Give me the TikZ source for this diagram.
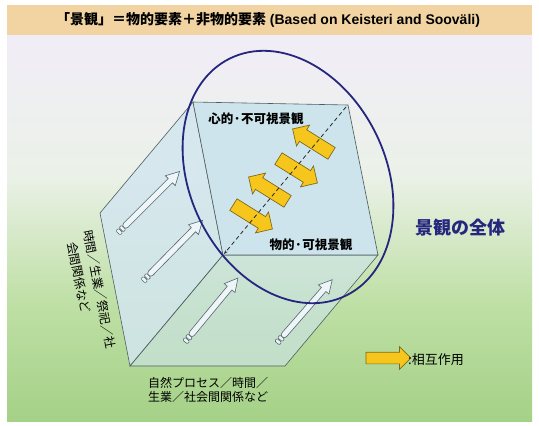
\documentclass[tikz,border=0pt]{standalone}
\usepackage{fontspec}
\setmainfont{Liberation Sans}
\newfontfamily\jp{Noto Sans CJK JP}
\usetikzlibrary{shapes.arrows,arrows.meta}
\definecolor{bandtan}{HTML}{F1D4A2}
\definecolor{lav}{HTML}{F1EDF7}
\definecolor{midbg}{HTML}{EBF1E8}
\definecolor{lgreen}{HTML}{BFE0A6}
\definecolor{dgreen}{HTML}{A5D187}
\definecolor{faceblue}{HTML}{CDE4EC}
\definecolor{sideblue}{HTML}{D3E6EF}
\definecolor{edgegray}{HTML}{4E5E60}
\definecolor{navy}{HTML}{26267E}
\definecolor{yfill}{HTML}{F6C61C}
\definecolor{yedge}{HTML}{7E6A1E}
\definecolor{hfill}{HTML}{EEF5F8}
\definecolor{hedge}{HTML}{56666B}
\tikzset{
  faceedge/.style={draw=edgegray, line width=0.6pt},
  yarrow/.style={single arrow, draw=yedge, fill=yfill, line width=0.7pt,
    minimum height=46pt, minimum width=24pt, single arrow head extend=5.5pt,
    single arrow tip angle=90, inner xsep=0pt, inner ysep=6.5pt, outer sep=0pt},
  harrow/.style={draw=hedge, fill=hfill, line width=0.6pt},
  jplabel/.style={font=\jp\bfseries\fontsize{12.5}{14}\selectfont, inner sep=0pt},
  jpsmall/.style={font=\jp\fontsize{12}{14}\selectfont, inner sep=0pt, anchor=west},
}
\newcommand\hollowarr[4]{%
  \begin{scope}[shift={(#1,#2)},rotate=#3]
    \draw[harrow] (11,-3) -- (#4-13,-3) -- (#4-13,-7) -- (#4,0) -- (#4-13,7) -- (#4-13,3) -- (11,3)
      arc[start angle=90,end angle=270,radius=3] -- cycle;
    \draw[harrow, rounded corners=1pt] (0,-3) rectangle (3.5,3);
    \draw[harrow, rounded corners=1pt] (4.5,-3) rectangle (8,3);
  \end{scope}}
\begin{document}
\begin{tikzpicture}[x=1pt,y=-1pt]
\useasboundingbox (0,0) rectangle (539,426);
\fill[white] (0,0) rectangle (539,426);
% background
\shade[top color=lav, bottom color=midbg] (7,35) rectangle (532,175);
\shade[top color=midbg, bottom color=lgreen] (7,174.5) rectangle (532,300);
\shade[top color=lgreen, bottom color=dgreen] (7,299.5) rectangle (532,421);
\fill[bandtan] (7,5) rectangle (532,35);
\node[font=\bfseries\fontsize{14}{16}\selectfont, inner sep=0pt] (title) at (268,20)
  {{\jp 「景観」＝物的要素＋非物的要素} (Based on Keisteri and Sooväli)};
% box corners
\coordinate (TL) at (193,102);
\coordinate (TR) at (348,105);
\coordinate (BR) at (378,255);
\coordinate (BL) at (223,255);
\coordinate (TLb) at (100,213);
\coordinate (BLb) at (130,366);
\coordinate (BRb) at (285,366);
% faces
\path[faceedge, fill=sideblue, fill opacity=0.85] (TLb) -- (TL) -- (BL) -- (BLb) -- cycle;
\path[faceedge, fill=faceblue, fill opacity=0.6] (BLb) -- (BL) -- (BR) -- (BRb) -- cycle;
% hollow arrows
\hollowarr{118}{233}{45}{87}
\hollowarr{143}{281}{45.5}{85}
\hollowarr{185}{342}{50.4}{83}
\hollowarr{277}{343}{48.9}{84}
% front face
\path[faceedge, fill=faceblue] (TL) -- (TR) -- (BR) -- (BL) -- cycle;
\node[jplabel] (mind) at (256,119) {心的·不可視景観};
\node[jplabel] (phys) at (311,245) {物的·可視景観};
% yellow arrows
\node[yarrow, rotate=-32] (y1) at (250,215) {};
\node[yarrow, rotate=148] (y2) at (271,191) {};
\node[yarrow, rotate=-32] (y3) at (295,169) {};
\node[yarrow, rotate=148] (y4) at (315,143) {};
\coordinate (dtop) at (346,107);
\coordinate (dbot) at (224,254);
\draw[black!85, line width=0.8pt, dash pattern=on 4pt off 3pt, -{Stealth[length=4pt,width=3pt]}] (dtop) -- (dbot);
% ellipse
\draw[navy, line width=1.8pt, shift={(288,177)}, rotate=26] (0,0) ellipse [x radius=98pt, y radius=132pt];
\node[font=\jp\bfseries\fontsize{18}{20}\selectfont, text=navy, inner sep=0pt] (whole) at (460,228) {景観の全体};
% side texts
\node[jpsmall, rotate=-79] (side1) at (88,230) {時間／生業／祭祀／社};
\node[jpsmall, rotate=-79] (side2) at (72,242) {会間関係など};
\node[jpsmall] (bot1) at (148,383) {自然プロセス／時間／};
\node[jpsmall] (bot2) at (148,397) {生業／社会間関係など};
% legend
\node[yarrow, minimum height=45pt, minimum width=22pt, single arrow head extend=5.5pt, inner ysep=5.5pt] (leg) at (385.5,358) {};
\node[font=\jp\fontsize{13}{15}\selectfont, inner sep=0pt, anchor=west] (legtext) at (408,360) {:相互作用};
\end{tikzpicture}
\end{document}
